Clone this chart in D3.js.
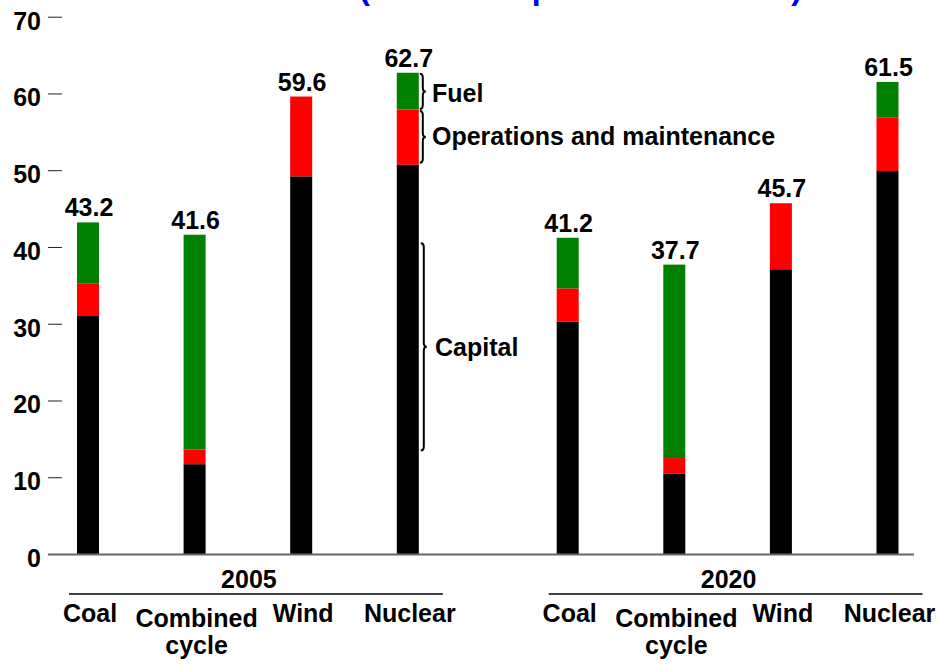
<!DOCTYPE html>
<html>
<head>
<meta charset="utf-8">
<script src="https://cdn.jsdelivr.net/npm/d3@7"></script>
<style>
  html, body { margin: 0; padding: 0; background: #fff; }
  svg { display: block; font-family: "Liberation Sans", Arial, Helvetica, sans-serif; font-weight: bold; }
</style>
</head>
<body>
<svg id="chart" width="940" height="667"></svg>
<script>
// ---- data ----
const years = ["2005", "2020"];
const technologies = [["Coal"], ["Combined", "cycle"], ["Wind"], ["Nuclear"]];
const capital    = [31.0, 11.7, 49.2, 50.7, 30.3, 10.5, 37.1, 49.9];
const operations = [4.2, 1.9, 10.4, 7.2, 4.3, 2.0, 8.5, 7.0];
const fuel       = [8.0, 28.0, 0.0, 4.8, 6.6, 25.2, 0.1, 4.6];
const totals     = [43.2, 41.6, 59.6, 62.7, 41.2, 37.7, 45.7, 61.5];
const yTicks     = [0, 10, 20, 30, 40, 50, 60, 70];
const seriesNames  = ["Capital", "Operations and maintenance", "Fuel"];
const seriesColors = ["#000000", "#ff0000", "#008000"];
const capitalBraceRange = [13.5, 40.5];
const titleText = "Levelized Costs (2004 mills per kilowatt-hour)";

// ---- build ----
const svg = d3.select("#chart");
const FS = 25;

const rows = [];
years.forEach((yr, g) => technologies.forEach((t, i) => {
  const k = g * technologies.length + i;
  rows.push({ year: yr, g, i, slot: g * 4.5 + i, label: t,
              capital: capital[k], operations: operations[k], fuel: fuel[k], total: totals[k] });
}));

const x = d3.scaleLinear().domain([0, 7.5]).range([88, 887.5]);
const y = d3.scaleLinear().domain([0, 70]).range([554, 16.7]);
const barW = 22;

// title (mostly clipped at top edge, as in the reference)
svg.append("text")
  .attr("x", 802).attr("y", -1.5)
  .attr("text-anchor", "end")
  .attr("font-size", 32)
  .attr("fill", "#0000ff")
  .text(titleText);

// y axis
const yAxis = d3.axisLeft(y).tickValues(yTicks).tickSize(14).tickPadding(7).tickFormat(d3.format("d"));
const ga = svg.append("g").attr("transform", "translate(62,0)").call(yAxis);
ga.select(".domain").remove();
ga.selectAll(".tick line").attr("stroke", "#222").attr("stroke-width", 1);
ga.selectAll(".tick text")
  .attr("font-size", FS).attr("font-family", "Liberation Sans, Arial, sans-serif")
  .attr("font-weight", "bold").attr("fill", "#000").attr("dy", "0.5em");

// stacked bars
const stack = d3.stack().keys(["capital", "operations", "fuel"]);
const stacked = stack(rows);
svg.append("g").selectAll("g")
  .data(stacked).join("g")
  .attr("fill", (d, i) => seriesColors[i])
  .selectAll("rect")
  .data(d => d.filter(s => s[1] - s[0] > 0)).join("rect")
  .attr("x", d => x(d.data.slot) - barW / 2)
  .attr("width", barW)
  .attr("y", d => y(d[1]))
  .attr("height", d => y(d[0]) - y(d[1]));

// baseline
svg.append("line")
  .attr("x1", 48).attr("x2", 914)
  .attr("y1", y(0) + 0.5).attr("y2", y(0) + 0.5)
  .attr("stroke", "#666").attr("stroke-width", 2);

// total labels
svg.append("g").selectAll("text")
  .data(rows).join("text")
  .attr("x", d => x(d.slot) + 1)
  .attr("y", d => y(d.total) - 6)
  .attr("text-anchor", "middle")
  .attr("font-size", FS)
  .text(d => d.total.toFixed(1));

// category labels
const cat = svg.append("g").selectAll("text")
  .data(rows).join("text")
  .attr("x", d => x(d.slot) + 2)
  .attr("y", d => d.label.length > 1 ? 627 : 622)
  .attr("text-anchor", "middle")
  .attr("font-size", FS);
cat.selectAll("tspan")
  .data(d => d.label.map(l => ({ l, xx: x(d.slot) + 2 })))
  .join("tspan")
  .attr("x", d => d.xx)
  .attr("dy", (d, i) => i === 0 ? 0 : 27)
  .text(d => d.l);

// group labels & lines
years.forEach((yr, g) => {
  const grp = rows.filter(r => r.g === g);
  const first = x(grp[0].slot), last = x(grp[grp.length - 1].slot);
  svg.append("text")
    .attr("x", (first + last) / 2 + 1)
    .attr("y", 588)
    .attr("text-anchor", "middle")
    .attr("font-size", FS)
    .text(yr);
  svg.append("line")
    .attr("x1", first - 19).attr("x2", last + 35)
    .attr("y1", 594).attr("y2", 594)
    .attr("stroke", "#000").attr("stroke-width", 1.5);
});

// braces annotation on Nuclear 2005
function bracePath(x0, y0, y1, w) {
  const m = (y0 + y1) / 2, h = w / 2, r = Math.min(4, (y1 - y0) / 6);
  return `M${x0},${y0} Q${x0 + h},${y0} ${x0 + h},${y0 + r} L${x0 + h},${m - r} Q${x0 + h},${m} ${x0 + w},${m}` +
         ` Q${x0 + h},${m} ${x0 + h},${m + r} L${x0 + h},${y1 - r} Q${x0 + h},${y1} ${x0},${y1}`;
}
const nuc = rows[3];
const xr = x(nuc.slot) + barW / 2;
const braces = [
  { name: seriesNames[2], y0: y(nuc.total) + 1, y1: y(nuc.capital + nuc.operations) - 0.5, bx: xr + 1, tx: 432, dy: 11 },
  { name: seriesNames[1], y0: y(nuc.capital + nuc.operations) + 1.5, y1: y(nuc.capital) - 2, bx: xr + 1, tx: 432, dy: 8.5 },
  { name: seriesNames[0], y0: y(capitalBraceRange[1]), y1: y(capitalBraceRange[0]), bx: xr + 2, tx: 435, dy: 9.5 }
];
braces.forEach(b => {
  svg.append("path")
    .attr("d", bracePath(b.bx, b.y0, b.y1, 6))
    .attr("fill", "none").attr("stroke", "#000").attr("stroke-width", 2);
  svg.append("text")
    .attr("x", b.tx).attr("y", (b.y0 + b.y1) / 2 + b.dy)
    .attr("font-size", FS)
    .text(b.name);
});
</script>
</body>
</html>
